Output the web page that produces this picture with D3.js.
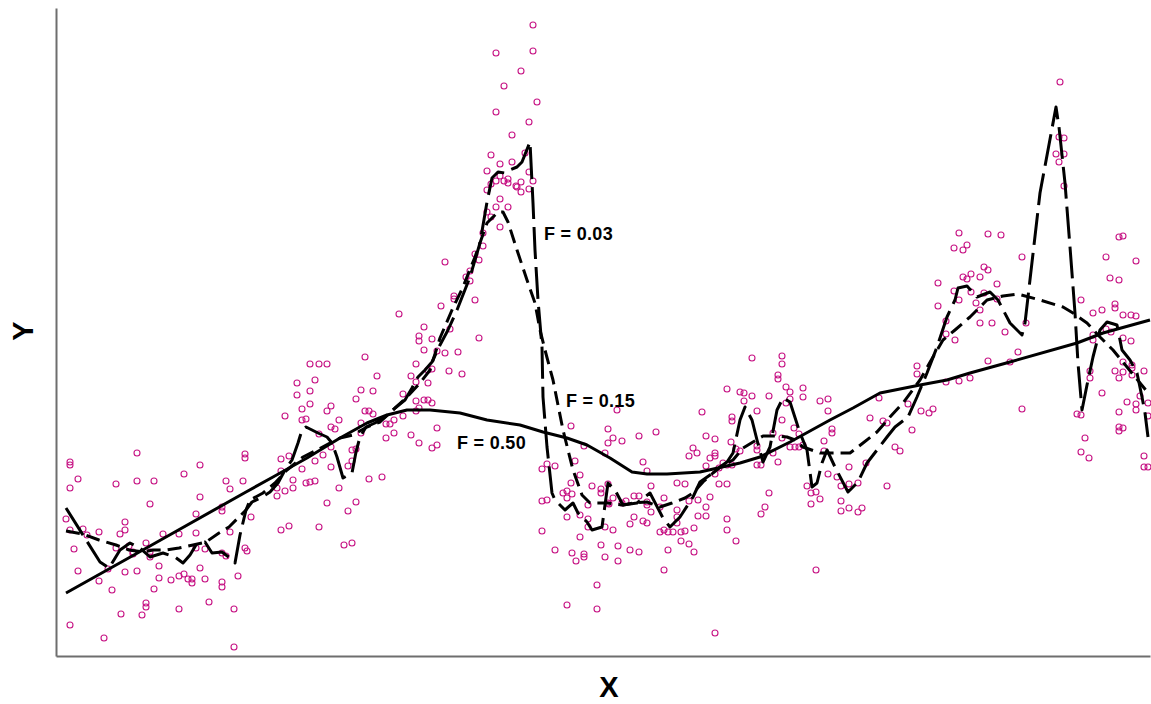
<!DOCTYPE html>
<html><head><meta charset="utf-8">
<script src="https://cdn.jsdelivr.net/npm/d3@7"></script>
<style>body{margin:0;background:#fff}svg{display:block}</style>
</head><body>
<script>
// ---- data (arbitrary units) ----
const pointsX = [8.1,1.4,1.4,14.4,12.8,2.2,8.1,9.8,6.0,1.4,17.0,17.4,18.7,18.9,18.9,14.4,9.4,16.6,16.6,14.0,1.0,6.9,2.7,1.4,6.9,4.3,6.4,3.1,10.7,12.3,14.0,17.4,9.0,1.8,6.0,7.3,7.7,7.7,9.4,9.4,14.0,14.9,16.6,17.0,18.9,10.3,2.2,5.2,6.9,8.1,14.4,10.3,4.3,11.5,12.3,12.8,13.2,13.6,13.6,14.9,18.2,16.6,16.6,5.6,9.8,15.3,9.0,9.0,12.3,17.8,6.5,8.6,1.4,4.8,17.8,
36.3,36.3,30.9,25.4,26.3,27.1,36.0,36.8,32.1,35.5,25.9,24.1,36.0,30.5,31.7,25.4,24.1,34.7,30.0,36.0,36.8,25.4,27.5,24.6,27.1,30.9,31.3,31.7,36.3,36.0,22.9,24.6,25.0,28.3,34.7,33.8,33.4,33.0,27.5,27.9,26.3,33.8,35.5,33.0,36.3,30.5,30.5,27.5,29.6,30.0,22.5,23.3,26.7,25.9,29.6,29.2,27.5,24.6,22.5,31.3,32.6,23.7,25.0,25.4,25.9,23.7,22.9,22.1,22.1,28.3,27.1,30.0,29.2,19.5,22.5,23.3,26.3,19.1,28.8,29.6,34.3,
47.7,44.0,47.7,46.5,44.8,48.1,44.0,47.3,45.6,43.5,46.9,44.4,45.6,43.1,47.3,44.4,44.0,43.5,44.8,45.2,45.2,46.0,46.5,46.1,47.7,47.3,46.5,43.1,44.4,44.0,45.2,43.1,43.5,44.4,42.7,42.7,41.9,42.3,38.9,41.4,41.0,41.4,39.8,39.8,41.9,38.5,39.4,36.8,42.3,37.6,
38.1,38.9,40.2,37.6,37.2,39.3,40.6,37.2,37.2,37.6,38.1,37.6,38.1,51.5,52.8,55.2,55.2,54.9,51.9,49.1,49.9,48.6,52.4,51.5,53.6,54.5,54.5,55.2,50.7,51.1,51.6,51.1,48.6,49.1,53.2,55.2,51.1,52.4,53.2,53.2,54.9,48.6,52.4,54.5,49.9,51.6,52.0,52.8,52.8,54.9,54.1,51.1,54.1,
56.1,69.6,72.6,72.6,72.2,72.2,73.0,67.1,68.4,68.8,68.8,69.6,71.3,73.0,64.6,70.1,67.6,67.6,55.7,56.6,58.3,60.0,65.0,65.9,67.5,71.7,72.6,63.7,64.1,63.3,65.4,65.9,65.9,68.0,68.4,70.1,70.1,70.1,70.5,71.7,72.2,58.7,59.1,65.0,66.3,66.7,67.1,67.6,65.9,66.3,67.1,62.1,62.9,59.5,55.7,55.3,57.8,58.3,60.8,60.4,56.6,57.0,59.1,59.1,65.4,63.3,64.2,71.3,70.9,70.5,65.0,65.0,64.2,59.5,57.8,62.1,62.1,62.1,58.7,59.1,57.4,55.7,63.8,67.1,67.1,60.4,60.8,61.2,61.7,62.5,62.9,62.5,63.3,63.8,68.0,56.2,57.4,58.3,61.2,56.2,60.8,65.9,
89.0,89.9,86.1,86.1,73.4,73.4,74.7,74.7,76.4,77.2,77.2,82.3,85.2,89.0,90.3,91.4,86.5,87.3,87.7,72.6,73.8,74.3,77.6,77.6,81.4,82.7,83.1,85.6,76.8,76.8,73.4,73.9,74.3,74.7,83.9,84.4,81.0,79.3,77.2,78.1,75.1,75.5,76.0,78.5,79.3,80.2,83.1,76.4,75.5,78.5,78.5,79.3,80.2,80.6,76.0,
100.4,100.3,100.8,100.0,100.8,100.3,100.8,90.3,93.2,94.5,89.8,90.7,91.1,96.6,106.3,106.7,105.0,108.0,92.8,93.2,91.5,90.7,91.1,92.4,105.4,106.3,88.2,94.1,89.8,91.5,92.8,90.3,92.0,94.1,102.5,88.2,92.4,105.9,105.9,104.6,103.7,106.7,107.5,108.0,89.0,92.4,93.6,97.0,94.9,105.0,105.5,103.7,103.7,106.7,107.5,
93.2,96.2,95.4,96.6,106.7,107.6,107.6,107.6,105.9,106.7,106.3,108.8,103.4,103.4,104.6,108.4,107.1,108.0,108.0,109.2,109.2,106.3,102.1,102.5,106.3,106.3,106.7,102.9,102.5,103.3,108.8,108.8,109.2];
const pointsY = [20.3,19.4,19.1,19.1,18.2,17.7,17.5,17.5,17.2,16.8,17.5,16.7,17.5,20.2,19.8,15.9,15.2,14.9,14.5,14.2,13.7,13.4,12.7,12.6,12.6,12.4,12.2,12.1,12.2,12.2,12.3,12.4,11.3,10.7,10.8,11.0,10.4,10.2,10.4,9.9,10.8,10.7,10.3,10.0,10.8,9.0,8.5,8.7,8.4,8.5,8.8,7.8,7.5,7.6,8.0,8.2,7.7,7.7,7.3,7.7,8.0,7.4,6.9,6.6,6.7,5.4,5.3,4.9,4.7,4.7,4.2,4.1,3.1,1.8,0.9,
32.0,31.5,29.9,29.2,29.2,29.2,29.2,30.6,28.0,28.0,27.6,27.3,27.4,26.6,26.5,26.5,26.1,26.2,25.7,25.5,25.6,25.2,25.0,24.7,24.5,24.5,24.5,24.2,24.8,24.5,24.0,23.6,23.7,23.6,24.0,23.6,23.2,23.2,22.9,22.7,22.2,22.3,22.1,21.8,21.3,22.3,23.3,20.9,20.6,20.7,19.7,20.0,20.1,19.5,19.5,19.0,18.9,18.7,18.5,17.7,17.9,17.6,17.3,17.4,17.5,16.8,16.5,16.8,16.0,16.8,15.3,15.4,14.5,13.9,12.6,13.0,12.9,10.5,11.1,11.3,34.2,
63.1,60.3,60.5,58.5,57.0,55.4,54.4,53.4,52.1,50.1,50.3,49.2,49.4,48.5,48.4,48.0,47.5,47.2,47.5,47.7,47.3,47.0,47.4,46.9,47.5,46.7,46.4,46.6,45.7,44.9,44.9,44.4,43.9,42.9,42.3,41.0,40.2,39.6,39.4,38.5,37.9,37.5,36.0,35.7,35.6,35.0,32.7,32.9,31.8,31.7,
30.5,30.3,30.4,28.7,28.6,28.5,28.2,27.3,25.6,25.3,22.8,20.8,21.1,23.0,21.0,22.7,21.3,20.3,19.5,19.2,19.0,18.7,18.1,17.3,17.0,16.7,16.3,17.2,16.3,16.5,16.2,15.8,15.5,15.6,15.1,15.3,13.9,14.1,13.7,12.9,12.9,12.5,11.9,11.1,10.6,10.3,9.5,10.2,9.9,9.9,7.1,5.1,4.7,
24.6,29.8,30.0,29.2,28.1,27.7,26.9,26.7,26.4,26.3,25.5,26.0,26.0,25.3,24.4,24.5,23.9,23.5,21.8,21.5,22.0,22.4,22.0,21.7,21.4,22.3,21.8,20.8,20.3,20.0,19.8,20.3,20.0,20.7,20.5,21.0,20.6,19.1,19.1,20.3,19.4,19.4,18.5,19.0,18.8,19.3,19.1,19.1,18.2,17.2,17.2,17.3,17.2,17.0,15.8,15.2,16.0,16.0,15.8,14.9,15.3,15.5,15.4,15.1,15.9,15.5,15.6,16.3,14.9,14.2,14.9,14.0,14.0,14.4,13.9,14.6,13.9,13.3,13.5,13.3,13.2,12.6,12.8,13.7,12.6,12.4,12.6,12.4,12.4,12.4,12.5,11.5,11.2,10.4,11.5,11.0,10.6,10.4,10.6,9.5,8.6,2.3,
32.2,31.6,29.0,28.2,26.4,25.7,26.8,25.9,25.5,25.7,24.5,25.8,25.2,27.4,27.5,27.8,24.5,24.3,24.7,23.6,22.8,22.2,22.7,22.3,23.8,23.5,23.3,22.6,21.5,20.5,20.9,20.9,20.9,21.1,20.9,20.5,19.3,18.9,18.2,17.9,17.0,16.3,16.4,17.0,17.2,17.3,17.0,15.7,15.2,15.5,14.5,14.8,14.4,14.8,8.6,
57.4,51.9,51.8,50.2,50.2,49.4,47.0,42.3,42.2,42.1,40.8,40.6,41.1,39.9,41.9,42.0,39.9,39.5,38.9,38.6,38.2,37.9,37.7,37.9,37.8,37.6,37.3,37.2,36.5,36.4,36.3,35.6,35.3,35.7,35.6,35.0,34.6,35.2,34.8,34.6,34.3,34.1,34.1,34.0,33.5,33.3,33.3,33.3,32.4,32.7,32.4,32.1,31.6,31.8,31.5,
29.5,30.4,29.4,24.7,29.4,29.1,28.8,28.1,28.5,28.4,27.8,28.5,28.5,27.8,26.3,26.0,25.4,25.2,24.6,25.3,24.0,24.4,24.2,24.1,22.9,22.5,22.8,21.8,20.4,19.8,20.0,18.9,18.9];

const fitLabels = ["F = 0.03", "F = 0.15", "F = 0.50"];

const f03X = [1.0,4.4,5.3,6.4,7.4,8.4,9.4,10.7,11.9,12.7,13.4,14.0,14.9,15.6,16.6,17.4,17.9,18.4,19.0,19.6,20.6,21.4,22.2,22.9,23.6,24.2,24.6,25.0,26.2,27.1,27.6,28.1,28.7,29.6,30.0,30.4,31.0,31.9,32.9,33.9,34.9,35.6,36.2,36.9,37.6,38.4,39.2,40.1,41.4,42.4,43.1,43.6,44.2,44.9,45.4,46.1,46.6,47.4,47.7,47.9,48.2,48.6,48.7,49.1,49.6,49.9,50.9,51.7,52.2,53.1,53.6,54.6,54.9,55.2,55.9,56.7,58.1,59.4,60.7,61.4,62.4,63.7,64.4,65.4,66.4,67.1,67.7,68.4,68.9,69.6,70.1,70.7,71.4,72.1,72.7,73.4,74.4,75.1,75.6,76.1,76.6,77.1,77.9,79.2,80.2,81.1,82.1,83.1,83.9,85.2,86.1,87.1,88.1,89.1,89.9,90.2,91.1,92.1,93.4,94.2,95.4,96.6,96.9,98.4,100.0,100.3,100.9,101.4,101.9,102.2,102.6,103.1,103.7,104.4,105.1,106.1,106.6,107.4,108.1,108.6,108.9,109.2];
const f03Y = [14.8,9.4,8.8,10.6,11.3,10.8,9.9,10.3,9.9,9.3,10.1,11.1,11.4,10.3,10.4,9.8,9.3,12.1,14.6,15.4,15.9,16.4,17.3,18.6,19.6,21.3,22.6,22.9,22.3,21.9,21.3,19.9,17.8,18.3,20.4,21.9,22.9,23.3,23.9,24.8,25.6,26.8,27.9,28.6,29.4,31.1,32.6,34.6,37.9,41.3,45.4,47.8,48.4,48.3,48.6,48.9,49.4,51.4,45.3,40.6,35.6,30.9,25.9,20.9,16.3,15.6,14.6,15.3,14.3,13.4,12.6,12.9,15.1,17.3,16.6,15.1,15.3,16.3,13.8,12.9,13.9,15.9,17.4,18.1,18.9,19.4,20.3,23.6,24.9,23.6,21.6,19.4,20.9,24.6,25.8,25.4,22.3,20.6,16.9,17.3,19.3,20.6,18.9,16.4,17.4,19.3,20.6,21.9,22.9,23.9,25.9,28.3,30.9,33.9,35.6,36.8,37.0,35.9,36.4,35.6,33.3,32.1,33.3,46.3,54.9,52.9,47.3,40.9,34.3,29.3,24.6,27.1,29.9,32.6,33.4,33.1,30.6,29.6,28.3,25.9,24.3,21.9];

const f15X = [1.0,2.7,4.3,6.0,7.3,8.7,9.7,11.0,12.3,13.7,15.0,16.3,17.3,18.2,19.0,19.4,20.7,21.9,23.1,24.7,26.1,27.4,28.4,29.7,31.1,32.4,33.7,35.1,36.4,37.4,38.4,39.6,40.7,41.9,43.1,43.6,44.2,44.7,45.2,46.1,47.1,47.9,48.4,48.9,49.7,50.7,51.7,52.6,53.4,55.1,56.7,57.7,59.1,60.4,61.6,62.9,63.7,64.7,65.7,66.7,67.7,68.7,69.7,70.7,72.1,73.1,73.9,74.7,76.4,78.1,79.4,80.7,82.1,83.4,84.7,86.4,87.7,88.7,89.9,91.4,93.1,94.7,96.2,98.4,100.7,101.7,103.1,104.4,105.7,107.1,108.4,109.4];
const f15Y = [12.5,12.2,11.6,11.1,10.6,10.4,10.6,10.6,10.8,11.1,11.4,12.3,12.9,13.8,14.6,15.6,16.3,17.3,18.6,19.9,20.6,21.3,21.8,22.1,22.9,23.4,24.6,25.9,27.3,28.6,31.8,34.6,36.9,39.9,43.3,43.8,44.4,44.4,43.4,40.6,37.6,35.3,32.6,30.6,27.6,22.6,18.6,16.1,15.3,15.3,15.1,15.3,15.4,14.9,15.3,15.8,16.3,17.4,18.3,19.1,19.6,20.8,21.4,22.0,22.0,21.9,21.6,20.9,20.3,20.3,20.3,21.3,22.4,23.9,25.3,27.6,29.9,31.6,32.6,33.9,35.6,36.0,36.2,35.6,34.9,34.3,33.3,31.9,30.6,28.9,27.3,26.1];

const f50X = [1.0,9.4,19.0,21.7,25.1,28.4,31.1,33.1,35.1,37.4,40.4,43.1,46.4,48.7,51.1,53.1,55.4,57.6,59.1,61.1,64.4,68.4,70.4,73.4,77.4,79.7,82.4,86.4,89.1,91.4,95.4,102.1,104.7,109.4];
const f50Y = [6.3,11.0,16.4,17.9,19.8,21.8,23.3,24.1,24.6,24.6,24.3,23.6,23.1,22.4,21.8,21.1,19.8,18.4,18.2,18.2,18.4,19.3,19.9,21.4,23.6,24.8,26.3,27.1,27.6,28.3,29.4,31.3,32.3,33.6];

// label anchor positions (data units)
const labelX = [48.8, 51.0, 40.1];
const labelY = [41.6, 24.9, 20.7];

// ---- drawing ----
const W = 1151, H = 704;
const svg = d3.select("body").append("svg").attr("width", W).attr("height", H);
const x = d3.scaleLinear().domain([0, 109.4]).range([56, 1150]);
const y = d3.scaleLinear().domain([0, 64.8]).range([656, 8]);

// axes (no ticks)
const gx = svg.append("g").attr("transform", "translate(0,656)")
  .call(d3.axisBottom(x).tickValues([]).tickSizeOuter(0));
const gy = svg.append("g").attr("transform", "translate(56,0)")
  .call(d3.axisLeft(y).tickValues([]).tickSizeOuter(0));
[gx, gy].forEach(g => g.select(".domain").attr("stroke", "#6e6e6e").attr("stroke-width", 2));

// points
const pts = d3.zip(pointsX, pointsY);
svg.append("g").selectAll("circle").data(pts).join("circle")
  .attr("cx", d => x(d[0])).attr("cy", d => y(d[1])).attr("r", 3)
  .attr("fill", "none").attr("stroke", "#C71585").attr("stroke-width", 1.1);

const line = d3.line().x(d => x(d[0])).y(d => y(d[1]));
const fits = [
  {data: d3.zip(f03X, f03Y), dash: "32,8"},
  {data: d3.zip(f15X, f15Y), dash: "14,7"},
  {data: d3.zip(f50X, f50Y), dash: null}
];
fits.forEach(f => {
  svg.append("path").attr("d", line(f.data)).attr("fill", "none")
    .attr("stroke", "#000").attr("stroke-width", 3)
    .attr("stroke-linejoin", "round")
    .attr("stroke-dasharray", f.dash);
});

// fit labels
svg.append("g").selectAll("text").data(fitLabels).join("text")
  .attr("x", (d, i) => x(labelX[i])).attr("y", (d, i) => y(labelY[i]))
  .attr("font-family", "Liberation Sans, Arial, sans-serif")
  .attr("font-weight", "bold").attr("font-size", 18)
  .attr("letter-spacing", 0.3)
  .attr("fill", "#000").text(d => d);

// axis titles
svg.append("text").attr("x", 609).attr("y", 697).attr("text-anchor", "middle")
  .attr("font-family", "Liberation Sans, Arial, sans-serif").attr("font-weight", "bold")
  .attr("font-size", 29).text("X");
svg.append("text").attr("transform", "translate(33,331) rotate(-90)").attr("text-anchor", "middle")
  .attr("font-family", "Liberation Sans, Arial, sans-serif").attr("font-weight", "bold")
  .attr("font-size", 29).text("Y");
</script>
</body></html>
